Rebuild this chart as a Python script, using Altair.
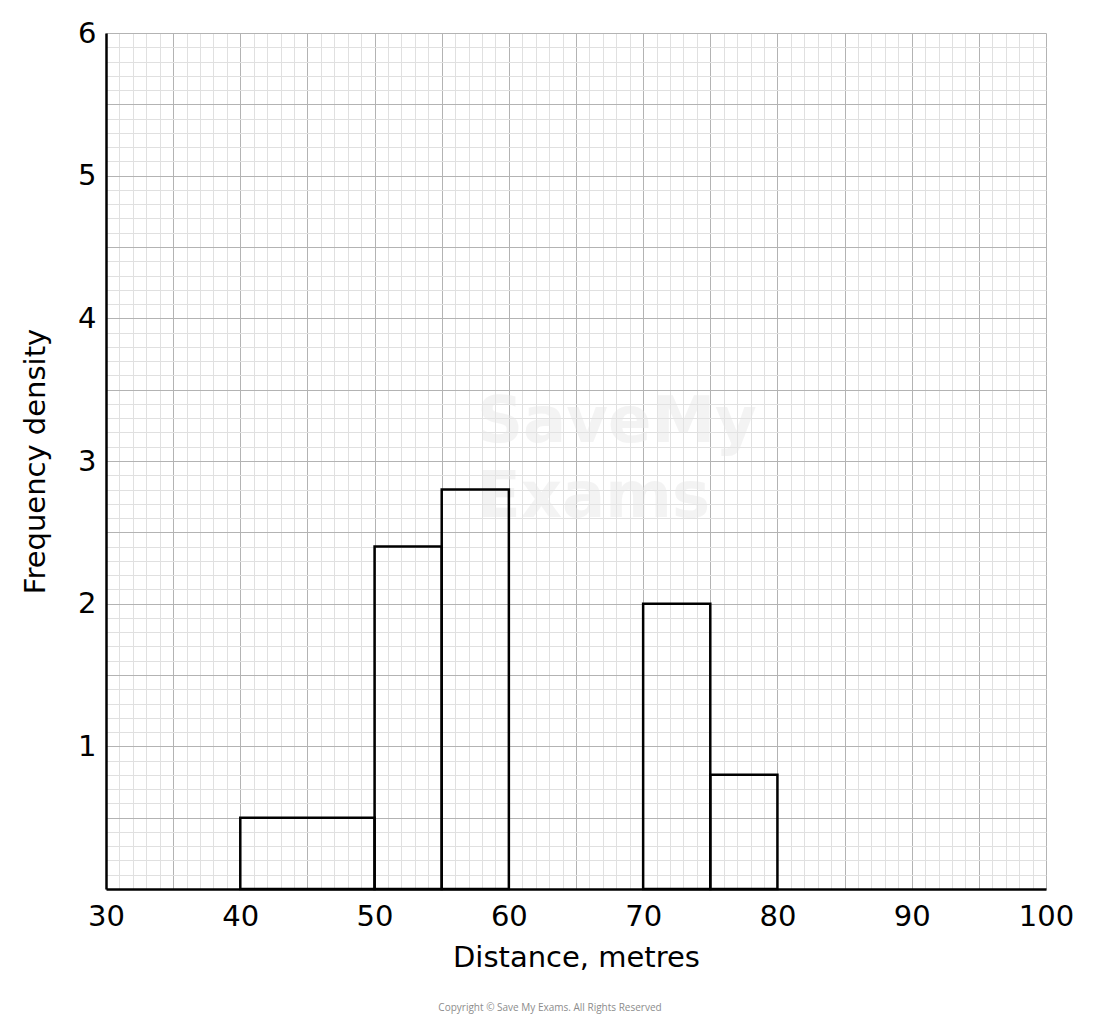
import altair as alt
import pandas as pd

# ---- data ----
bin_start = [40, 50, 55, 70, 75]
bin_end = [50, 55, 60, 75, 80]
freq_density = [0.5, 2.4, 2.8, 2.0, 0.8]

x_ticks = list(range(30, 101))
y_ticks = [round(i * 0.1, 1) for i in range(61)]

x_title = "Distance, metres"
y_title = "Frequency density"
copyright_text = "Copyright © Save My Exams. All Rights Reserved"
watermark_lines = ["SaveMy", "Exams"]

df = pd.DataFrame({"start": bin_start, "end": bin_end, "fd": freq_density})

FONT = "DejaVu Sans"
MAJOR = "#b3b3b3"
MINOR = "#e0e0e0"

x_axis = alt.Axis(
    values=x_ticks,
    grid=True,
    gridColor={"condition": {"test": "datum.value % 5 === 0", "value": MAJOR}, "value": MINOR},
    gridWidth=1,
    ticks=False,
    domain=True,
    domainColor="black",
    domainWidth=2.5,
    labelExpr="datum.value % 10 === 0 ? datum.label : ''",
    labelFont=FONT,
    labelFontSize=29,
    labelColor="black",
    labelPadding=13,
    labelFlush=False,
    labelOverlap=False,
    title=x_title,
    titleFont=FONT,
    titleFontSize=29,
    titleFontWeight="normal",
    titleColor="black",
    titlePadding=12,
)

y_axis = alt.Axis(
    values=y_ticks,
    grid=True,
    gridColor={
        "condition": {"test": "abs(datum.value * 2 - round(datum.value * 2)) < 1e-6", "value": MAJOR},
        "value": MINOR,
    },
    gridWidth=1,
    ticks=False,
    domain=True,
    domainColor="black",
    domainWidth=2.5,
    labelExpr="(datum.value > 0 && abs(datum.value - round(datum.value)) < 1e-6) ? format(datum.value, 'd') : ''",
    labelFont=FONT,
    labelFontSize=29,
    labelColor="black",
    labelPadding=10,
    labelFlush=False,
    labelOverlap=False,
    labelBaseline="middle",
    title=y_title,
    titleFont=FONT,
    titleFontSize=29,
    titleFontWeight="normal",
    titleColor="black",
    titlePadding=27,
)

bars = alt.Chart(df).mark_rect(
    fillOpacity=0, stroke="black", strokeWidth=2.5
).encode(
    x=alt.X("start:Q", scale=alt.Scale(domain=[30, 100], nice=False), axis=x_axis),
    x2="end:Q",
    y=alt.Y("fd:Q", scale=alt.Scale(domain=[0, 6], nice=False), axis=y_axis),
    y2=alt.datum(0),
)

wm_df = pd.DataFrame({"t": watermark_lines, "row": [0, 1]})
watermark = alt.Chart(wm_df).mark_text(
    align="left", baseline="middle", font=FONT, fontSize=64, fontWeight="bold",
    color="#e6e6e6", opacity=0.45
).encode(
    text="t:N",
    x=alt.value(371),
    y=alt.Y("row:Q", axis=None, scale=alt.Scale(domain=[0, 1], range=[390, 465])),
)

copy_df = pd.DataFrame({"t": [copyright_text]})
copyright = alt.Chart(copy_df).mark_text(
    align="center", baseline="middle", font="Open Sans", fontSize=10, color="#8c8c8c"
).encode(
    text="t:N",
    x=alt.value(444),
    y=alt.value(975),
)

chart = alt.layer(watermark, bars, copyright).resolve_scale(y="independent").properties(
    width=940,
    height=856,
    padding={"left": 98, "top": 25, "right": 46, "bottom": 140},
    autosize=alt.AutoSizeParams(type="none"),
    background="white",
).configure_view(stroke=None)

chart.save("out.html", embed_options={"renderer": "svg", "actions": False})
